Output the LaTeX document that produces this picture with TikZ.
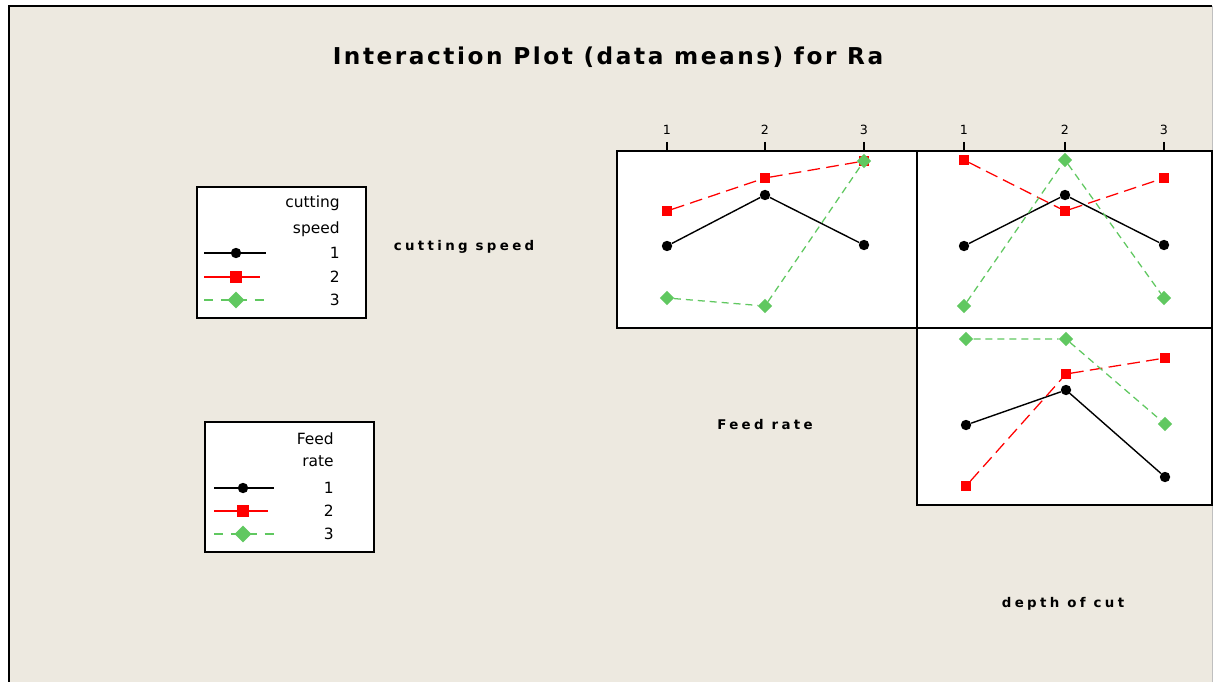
\documentclass[tikz,border=0pt]{standalone}
\usepackage{fontspec}
\setmainfont{DejaVu Sans}
\newfontfamily\headfont{DejaVu Sans}[LetterSpace=11]
\newfontfamily\axisfont{DejaVu Sans}[LetterSpace=25]
\usetikzlibrary{shapes.geometric}
\definecolor{panelbg}{RGB}{237,233,224}
\definecolor{mtgreen}{RGB}{96,200,96}

\begin{document}
\begin{tikzpicture}[x=0.025cm,y=-0.025cm]
  \tikzset{dot/.style={circle,fill=black,inner sep=0pt,minimum size=0.26cm}}
  \tikzset{sq/.style={rectangle,fill=red,inner sep=0pt,minimum size=0.24cm}}
  \tikzset{dia/.style={diamond,fill=mtgreen,inner sep=0pt,minimum size=0.36cm}}
  \tikzset{bigsq/.style={sq,minimum size=0.3cm}}
  \tikzset{bigdia/.style={dia,minimum size=0.42cm}}
  \tikzset{lnk/.style={black,line width=1pt}}
  \tikzset{lnr/.style={red,line width=0.9pt,dash pattern=on 9pt off 4.5pt}}
  \tikzset{lng/.style={mtgreen,line width=0.9pt,dash pattern=on 5pt off 3.5pt}}
  \tikzset{keyr/.style={red,line width=0.9pt}}
  \tikzset{keyg/.style={mtgreen,line width=0.9pt,dash pattern=on 6.5pt off 5.5pt}}
  \tikzset{frame/.style={draw=black,line width=1.1pt,fill=white}}
  \tikzset{lbl/.style={font=\axisfont\bfseries\fontsize{9.5}{10}\selectfont}}
  \tikzset{tick/.style={font=\fontsize{9}{9}\selectfont,inner sep=0pt}}
  \tikzset{keytext/.style={font=\fontsize{11}{12}\selectfont,anchor=east,inner sep=0pt}}

  \useasboundingbox (0,0) rectangle (1214,682);
  \fill[white] (0,0) rectangle (1214,682);
  \fill[panelbg] (9,6) rectangle (1212,682);
  \draw[line width=1.5pt] (9,682) -- (9,6) -- (1212,6);
  \draw[gray!50] (1212,6) -- (1212,682);

  \node[font=\headfont\bfseries\fontsize{16.5}{18}\selectfont] (title) at (608,57)
    {Interaction Plot (data means) for Ra};

  % panels
  \draw[frame] (617,151) rectangle (917,328);
  \draw[frame] (917,151) rectangle (1212,328);
  \draw[frame] (917,328) rectangle (1212,505);

  \foreach \x/\n in {667/1,765/2,864/3,964/1,1065/2,1164/3} {
    \draw[line width=0.8pt] (\x,142) -- (\x,151);
    \node[tick] (t\x) at (\x,130) {\n};
  }

  % cutting speed x feed rate
  \foreach \s/\m/\l/\ya/\yb/\yc in {k/dot/lnk/246/195/245, r/sq/lnr/211/178/161, g/dia/lng/298/306/161} {
    \node[\m] (A\s1) at (667,\ya) {};
    \node[\m] (A\s2) at (765,\yb) {};
    \node[\m] (A\s3) at (864,\yc) {};
    \draw[\l] (A\s1) -- (A\s2) -- (A\s3);
  }

  % cutting speed x depth of cut
  \foreach \s/\m/\l/\ya/\yb/\yc in {k/dot/lnk/246/195/245, r/sq/lnr/160/211/178, g/dia/lng/306/160/298} {
    \node[\m] (B\s1) at (964,\ya) {};
    \node[\m] (B\s2) at (1065,\yb) {};
    \node[\m] (B\s3) at (1164,\yc) {};
    \draw[\l] (B\s1) -- (B\s2) -- (B\s3);
  }

  % feed rate x depth of cut
  \foreach \s/\m/\l/\ya/\yb/\yc in {k/dot/lnk/425/390/477, r/sq/lnr/486/374/358, g/dia/lng/339/339/424} {
    \node[\m] (C\s1) at (966,\ya) {};
    \node[\m] (C\s2) at (1066,\yb) {};
    \node[\m] (C\s3) at (1165,\yc) {};
    \draw[\l] (C\s1) -- (C\s2) -- (C\s3);
  }

  \node[lbl] (xcs) at (464,247) {cutting speed};
  \node[lbl] (xfr) at (765,425) {Feed rate};
  \node[lbl] (xdc) at (1063,604) {depth of cut};

  % legends
  \draw[frame,line width=0.9pt] (197,187) rectangle (366,318);
  \node[keytext] (csh1) at (340,203) {cutting};
  \node[keytext] (csh2) at (340,229) {speed};
  \foreach \s/\m/\l/\y/\n/\xe in {k/dot/lnk/253/1/266, r/bigsq/keyr/277/2/260, g/bigdia/keyg/300/3/266} {
    \coordinate (cs\s a) at (204,\y);
    \coordinate (cs\s b) at (\xe,\y);
    \draw[\l] (cs\s a) -- (cs\s b);
    \node[\m] (cs\s) at (236,\y) {};
    \node[keytext] (cs\s n) at (340,\y) {\n};
  }

  \draw[frame,line width=0.9pt] (205,422) rectangle (374,552);
  \node[keytext] (frh1) at (334,439) {Feed};
  \node[keytext] (frh2) at (334,461) {rate};
  \foreach \s/\m/\l/\y/\n/\xe in {k/dot/lnk/488/1/274, r/bigsq/keyr/511/2/268, g/bigdia/keyg/534/3/274} {
    \coordinate (fr\s a) at (214,\y);
    \coordinate (fr\s b) at (\xe,\y);
    \draw[\l] (fr\s a) -- (fr\s b);
    \node[\m] (fr\s) at (243,\y) {};
    \node[keytext] (fr\s n) at (334,\y) {\n};
  }
\end{tikzpicture}
\end{document}
